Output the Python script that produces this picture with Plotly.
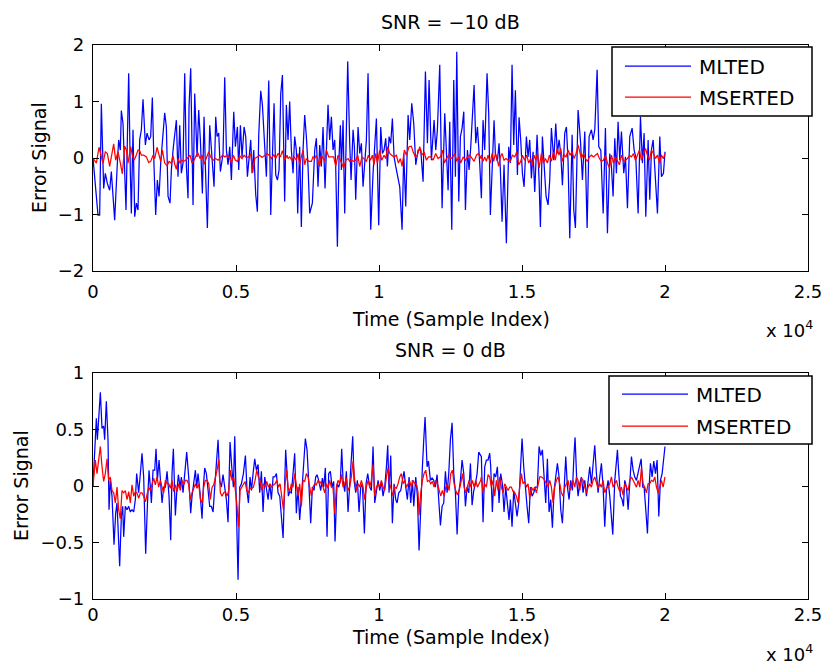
import plotly.graph_objects as go

# ---------------- data (time in samples, error value) ----------------
TOP_BLUE_T = [0,175,233,292,373,431,501,583,641,758,851,898,956,991,1049,1108,1154,1201,1248,1306,
1341,1399,1458,1516,1574,1632,1691,1749,1831,1889,1959,2017,2075,2134,2192,2250,2309,2367,2437,2507,
2565,2624,2693,2740,2810,2857,2915,2973,3032,3090,3148,3207,3265,3323,3358,3416,3498,3556,3638,3696,
3755,3824,3883,3929,3999,4081,4163,4233,4291,4338,4396,4454,4547,4606,4664,4722,4781,4839,4921,4979,
5049,5095,5154,5212,5282,5340,5399,5457,5515,5562,5620,5690,5748,5795,5865,5923,5981,6063,6145,6215,
6273,6331,6390,6448,6506,6565,6623,
6702,6761,6819,6877,6936,6994,7052,7110,7157,7227,7285,7344,7402,7460,7519,7577,7670,7752,7810,7868,
7927,7985,8043,8113,8160,8218,8276,8335,8393,8451,8486,8545,8603,8650,8685,8743,8801,8859,8906,8976,
9023,9093,9139,9186,9268,9326,9384,9442,9501,9559,9617,9676,9711,9792,9851,9909,9990,10060,10119,10177,
10235,10294,10352,10410,10468,10527,10585,10667,10725,10807,10865,10935,11017,11075,11145,11215,11285,11367,11460,11541,
11623,11693,11751,11833,11879,11926,11984,12042,12124,12206,12299,12357,12416,12474,12544,12614,12672,12719,12789,12847,
12905,12964,13022,13092,13150,13208,13267,13325,13383,13442,
13521,13580,13638,13696,13778,13836,13894,13953,14023,14069,14139,14198,14244,14303,14372,14454,14536,14594,14652,14711,
14769,14839,14897,14955,15014,15072,15154,15212,15270,15329,15387,15445,15527,15597,15643,15713,15772,15842,15912,15970,
16028,16110,16180,16238,16296,16355,16413,16495,16553,16611,16670,16752,16810,16868,16961,17043,17113,17195,17277,17346,
17428,17486,17545,17627,17685,17755,17838,17917,17987,18069,18127,18185,18244,18302,18360,18419,18477,18558,18617,18687,
18768,18850,18920,18978,19060,19142,19211,19270,19328,19410,19468,19526,19585,19643,19736,19818,19876,19946,20000]
TOP_BLUE_V = [0,-1.01,-1.01,0.96,-0.54,-0.27,-0.45,-0.57,-0.24,-1.10,-0.09,0.32,0.14,0.84,0.61,-0.27,-0.92,0.32,1.50,-0.27,
-0.98,0.50,-1.04,-0.80,-0.92,0.32,0.50,1.04,0.23,0.44,0.32,0.38,1.07,-0.15,-1.01,-0.39,-0.68,-0.09,0.32,0.80,
0.55,-0.68,-0.80,-0.21,0.20,0.38,0.67,-0.33,0.58,-0.27,-0.09,1.50,-0.15,-0.71,0.91,1.59,-0.83,1.14,0.02,0.85,
0.32,-0.63,0.73,-0.15,-1.24,0.58,0.02,-0.51,0.73,0.38,0.44,-0.24,0.08,1.43,0.14,-0.12,0.20,-0.39,0.82,0.20,
0.55,-0.21,0.58,0.02,0.55,0.38,-0.33,0.08,0.32,-0.27,0.14,-0.65,-0.95,0.41,1.19,0.94,0.35,-0.33,1.37,-1.01,
0.02,0.97,-0.30,-0.39,-0.21,1.14,1.47,
-0.77,0.94,0.32,1.00,0.14,-0.27,0.38,0.14,-0.98,0.20,-1.22,0.14,0.76,0.38,-0.15,-0.98,-0.80,0.14,0.35,-0.51,
0.23,-0.15,0.55,-0.54,0.20,0.94,0.32,0.73,0.14,0.32,-0.15,-1.57,0.02,0.58,-0.21,0.67,-0.98,0.91,1.71,0.26,
-0.39,0.50,0.20,-0.74,0.55,0.08,0.26,-0.51,-0.15,0.32,1.50,-0.04,-1.27,-0.27,0.26,0.70,-1.19,0.55,0.08,0.14,
0.35,-0.15,0.38,0.26,0.70,0.02,-0.15,-0.39,-0.51,-1.27,0.08,-0.86,0.76,0.32,0.97,0.61,-0.12,0.14,0.14,-0.42,
1.53,0.26,1.38,-0.04,0.44,0.67,0.14,0.50,1.65,-0.89,0.79,0.02,-0.57,0.64,-1.27,1.38,-0.33,1.88,-0.77,0.38,
0.53,0.82,-0.92,0.14,-0.21,0.20,0.67,1.29,0.26,0.55,
-0.09,-0.71,0.67,0.14,1.50,0.79,-1.01,-0.15,0.67,0.08,-0.06,0.26,-0.21,-1.13,-0.12,-1.51,0.20,-0.09,1.65,0.23,
1.20,-0.30,0.72,0.32,-0.27,-0.51,0.38,0.02,0.32,-0.36,0.11,-0.60,0.41,-0.39,-1.22,0.38,-0.21,-0.68,-0.83,-0.39,
0.53,-0.04,0.61,0.08,0.32,0.08,-0.48,0.44,0.55,-0.06,-1.42,0.41,-0.92,-1.24,0.85,0.32,-0.39,0.47,-1.24,0.38,
0.50,0.32,0.50,1.56,0.20,0.14,-0.98,0.53,-1.33,0.08,-0.15,-0.68,0.35,-0.27,0.64,-0.04,0.47,-0.27,0.02,-0.89,
0.38,0.53,0.14,0.02,-0.98,0.73,-0.09,0.44,-1.04,0.32,-0.74,0.14,0.32,-0.15,-0.98,0.38,-0.33,-0.27,0.11]

TOP_RED_T = [0,117,210,292,350,431,501,583,641,723,793,875,956,1026,1108,1166,1224,1318,1376,1434,
1492,1574,1632,1691,1772,1866,1947,2017,2099,2157,2239,2297,2367,2425,2507,2589,2658,2740,2798,2857,
2915,2973,3032,3090,3172,3241,3323,3393,3463,3533,3615,3673,3743,3813,3883,3964,4046,4116,4198,4279,
4373,4466,4536,4606,4699,4781,4839,4909,4979,5049,5130,5212,5282,5364,5445,5515,5585,5655,5748,5830,
5912,6005,6087,6156,6238,6320,6390,6471,6553,6623,6705,6786,
6819,6877,6959,7029,7110,7169,7227,7285,7344,7402,7460,7553,7635,7693,7752,7810,7880,7927,7985,8043,
8102,8160,8241,8335,8416,8486,8568,8626,8696,8766,8836,8918,8976,9034,9116,9186,9256,9326,9407,9477,
9559,9629,9699,9769,9827,9885,9944,10025,10095,10177,10235,10305,10375,10445,10527,10608,10678,10748,10807,10888,
10958,11051,11133,11191,11273,11343,11425,11495,11576,11658,11728,11809,11891,11984,12066,12148,12217,12287,12357,12439,
12509,12590,12649,12719,12789,12859,12940,13022,13092,13174,13255,13325,13407,13477,13558,
13580,13638,13696,13755,13813,13894,13953,14011,14069,14128,14186,14244,14303,14372,14442,14512,14594,14664,14746,14816,
14886,14955,15014,15095,15165,15235,15305,15363,15422,15480,15538,15597,15678,15748,15818,15888,15958,16028,16098,16168,
16226,16296,16355,16413,16483,16541,16611,16681,16751,16821,16891,16961,17019,17078,17148,17218,17287,17357,17427,17497,
17567,17637,17707,17777,17847,17917,17987,18057,18127,18197,18267,18337,18407,18477,18547,18617,18687,18757,18827,18897,
18967,19036,19106,19176,19246,19316,19386,19456,19526,19596,19666,19736,19806,19876,19946,20000]
TOP_RED_V = [0,-0.09,0.19,0.05,-0.09,0.11,0.08,-0.15,0.02,0.25,-0.04,0.11,-0.09,-0.28,0.21,0.14,-0.09,0.20,0.05,-0.04,
0.02,0.14,0.13,0.05,0.05,0.02,-0.08,-0.06,0.05,-0.01,0.19,0.05,-0.06,0.14,-0.09,-0.14,-0.06,-0.09,0.04,-0.11,
-0.20,-0.01,-0.09,-0.04,-0.06,-0.04,0.02,0.05,-0.09,-0.04,0.05,0.08,-0.01,0.05,-0.11,0.02,0.11,0.02,-0.04,-0.01,
-0.04,0.01,0.05,0.02,0.05,-0.01,-0.09,0.05,-0.04,-0.06,0.04,-0.01,0.05,0.01,0.02,0.08,-0.26,-0.01,0.02,0.05,
0.01,0.05,0.08,0.05,-0.01,0.06,-0.01,0.08,0.02,0.13,-0.04,0.05,
-0.01,0.02,-0.04,0.02,-0.04,0.08,-0.12,0.02,0.14,-0.12,-0.01,-0.06,-0.06,0.02,-0.01,0.05,-0.09,-0.15,0.05,-0.01,
-0.06,0.14,0.02,0.02,0.02,-0.15,0.05,-0.01,-0.09,-0.18,-0.04,-0.01,-0.06,-0.04,-0.06,-0.04,0.05,-0.15,0.02,-0.01,
-0.06,0.05,-0.04,0.05,-0.12,0.08,-0.09,0.14,-0.04,0.05,-0.01,0.20,0.08,0.05,0.02,0.05,-0.09,-0.01,-0.15,0.14,
0.05,0.20,0.21,0.11,0.02,0.05,0.20,0.05,0.11,-0.04,0.02,0.02,-0.04,0.08,-0.01,0.02,0.14,-0.09,-0.01,0.05,
-0.01,0.02,0.08,-0.06,0.02,-0.09,0.02,-0.04,0.02,0.05,-0.01,-0.06,0.05,0.08,-0.01,
0.05,-0.06,0.02,-0.06,0.05,-0.09,0.08,-0.06,0.08,-0.01,-0.15,0.02,0.08,-0.04,-0.01,-0.04,-0.06,0.05,0.02,0.11,
-0.12,-0.06,0.05,-0.04,0.05,-0.09,-0.01,-0.12,0.05,-0.04,0.08,-0.18,0.08,-0.09,-0.01,-0.09,0.05,-0.06,0.11,-0.04,
0.17,0.05,0.17,-0.06,0.05,0.02,0.14,0.05,0.11,-0.01,0.08,0.23,0.08,-0.01,0.08,-0.01,-0.06,0.02,0.05,0.02,
0.05,0.08,-0.01,-0.06,-0.04,0.05,-0.09,-0.18,0.05,-0.09,0.02,-0.06,-0.12,0.05,-0.04,-0.04,-0.01,0.05,0.02,0.08,
-0.04,0.05,0.14,-0.04,0.05,0.17,0.05,-0.04,0.14,0.08,-0.01,0.05,-0.09,0.05,-0.01,0.08]

BOT_BLUE_T = [0,82,117,152,198,257,315,373,408,466,525,560,606,665,735,793,840,875,933,991,
1038,1073,1131,1189,1248,1306,1364,1423,1481,1527,1597,1656,1714,1772,1842,1901,1959,2006,2041,2099,
2157,2204,2250,2309,2367,2414,2472,2530,2589,2658,2717,2763,2810,2880,2927,2985,3043,3090,3148,3207,
3276,3346,3416,3463,3533,3580,3626,3673,3743,3813,3859,3906,3964,4023,4081,4139,4198,4256,4314,4373,
4431,4489,4547,4606,4664,4722,4792,4851,4909,4956,5014,5072,5130,5189,5259,5329,5387,5434,5492,5539,
5597,5655,5713,5772,5830,5888,5947,6005,6063,6122,6180,6238,6297,6355,6413,6471,6530,6588,6646,
6737,6784,6831,6877,6936,6994,7052,7110,7169,7227,7285,7344,7425,7484,7553,7612,7670,7728,7787,7833,
7892,7962,8020,8067,8125,8183,8241,8300,8358,8416,8463,8533,8591,8650,8696,8743,8801,8859,8918,8976,
9034,9081,9128,9186,9244,9302,9361,9419,9489,9547,9606,9676,9734,9792,9851,9909,9967,10025,10084,10142,
10200,10259,10305,10352,10410,10468,10527,10585,10632,10690,10760,10818,10877,10935,10993,11051,11110,11168,11215,11285,
11343,11401,11460,11518,11565,11611,11681,11728,11798,11856,11914,11973,12031,12089,12148,12206,12264,12322,12381,12439,
12497,12556,12614,12672,12731,12789,12847,12905,12964,13022,13080,13139,13197,13255,13313,13372,13430,13488,13547,
13580,13638,13696,13755,13813,13871,13906,13964,14023,14081,14139,14198,14256,14314,14372,14431,14489,14547,14594,14652,
14711,14769,14827,14886,14944,15002,15060,15119,15177,15235,15294,15352,15410,15469,15538,15597,15655,15713,15772,15830,
15888,15947,16005,16063,16121,16180,16238,16296,16355,16413,16471,16530,16588,16646,16705,16763,16821,16856,16914,16961,
17019,17078,17136,17194,17253,17311,17369,17427,17486,17544,17602,17661,17719,17777,17836,17894,17952,18010,18069,18127,
18174,18244,18290,18337,18384,18442,18500,18547,18593,18652,18710,18768,18827,18885,18943,19002,19060,19106,19165,19223,
19270,19328,19386,19445,19491,19549,19608,19666,19724,19783,19841,19899,19958,20000]
BOT_BLUE_V = [0,0.41,0.60,0.41,0.64,0.83,0.51,0.53,0.41,0.75,0.41,-0.21,0.05,-0.09,-0.52,-0.24,-0.15,-0.36,-0.71,-0.27,
-0.18,-0.45,-0.18,-0.21,-0.18,-0.23,-0.21,-0.23,-0.12,0.11,-0.06,0.11,0.29,0.08,-0.60,-0.18,0.14,-0.01,-0.15,0.14,
0.14,0.33,0.05,0.23,0.05,-0.15,-0.01,-0.01,0.13,-0.09,-0.48,0.11,0.33,-0.26,-0.06,0.10,-0.01,0.08,-0.06,0.08,
0.30,0.08,-0.24,-0.09,0.08,0.14,-0.01,0.11,-0.06,-0.29,-0.01,0.16,0.11,-0.01,-0.18,-0.18,-0.23,-0.01,0.17,0.41,
0.05,-0.01,0.10,-0.01,-0.12,-0.32,0.39,0.17,-0.01,0.44,-0.24,-0.83,-0.01,0.02,0.11,0.27,-0.05,-0.15,0.08,-0.04,
0.11,0.24,0.14,0.19,-0.06,0.13,-0.23,0.08,-0.02,-0.12,0.02,-0.12,0.08,0.08,0.11,-0.06,-0.09,-0.27,-0.46,
0.32,0.11,-0.09,-0.05,-0.06,0.11,0.29,-0.24,-0.01,-0.30,-0.04,0.11,0.42,0.32,-0.01,-0.33,-0.01,-0.04,0.08,0.10,
0.05,-0.04,0.07,-0.01,0.16,-0.45,0.11,0.13,-0.01,0.04,-0.49,0.02,-0.01,0.05,0.33,0.05,-0.05,0.13,-0.23,-0.01,
0.29,0.44,0.05,-0.06,0.05,-0.23,-0.01,0.02,-0.42,0.02,0.11,-0.01,-0.04,0.35,-0.15,-0.04,0.05,-0.04,0.04,-0.09,
-0.01,0.17,0.36,-0.06,0.27,-0.33,0.02,-0.12,-0.15,-0.06,-0.04,0.05,0.13,-0.01,-0.12,0.08,-0.15,0.05,-0.18,0.08,
-0.09,-0.57,-0.09,0.17,0.41,0.61,0.17,0.22,0.05,0.07,0.05,-0.01,0.10,-0.12,-0.35,-0.18,-0.15,0.13,-0.06,0.11,
0.41,0.56,0.11,-0.06,-0.43,-0.06,0.05,0.23,0.11,-0.18,-0.01,-0.06,0.20,-0.17,-0.04,0.02,0.11,0.30,0.27,
0.26,-0.32,0.17,0.23,0.23,0.29,0.17,-0.23,0.11,0.08,0.17,-0.15,0.11,0.02,-0.23,-0.01,-0.18,-0.30,-0.12,-0.36,
-0.04,-0.18,-0.27,-0.15,0.17,0.42,0.17,-0.04,-0.18,-0.33,-0.01,-0.09,-0.06,-0.01,-0.01,0.35,0.27,0.32,0.05,-0.15,
0.24,-0.23,-0.12,-0.37,-0.04,0.11,0.20,0.08,-0.21,-0.33,-0.06,0.26,-0.01,-0.12,0.05,-0.04,0.29,0.43,0.05,-0.09,
0.02,0.08,-0.06,0.05,-0.09,0.02,0.17,0.02,0.23,0.36,0.11,-0.06,0.08,0.20,-0.01,-0.36,-0.04,0.05,-0.09,-0.27,
-0.43,0.05,0.17,0.32,0.11,-0.09,-0.12,-0.18,0.05,-0.01,-0.21,0.08,0.26,0.14,0.08,0.05,0.11,0.17,0.24,-0.01,
-0.01,-0.21,-0.42,-0.01,0.20,0.08,0.22,0.11,0.23,-0.27,0.05,0.11,0.23,0.35]

BOT_RED_T = [0,82,140,198,257,315,373,431,490,548,606,665,723,781,840,898,956,1014,1073,1131,
1189,1248,1306,1364,1423,1481,1539,1597,1656,1714,1772,1831,1889,1947,2006,2064,2122,2180,2239,2297,
2355,2414,2472,2530,2589,2647,2705,2763,2822,2880,2938,2997,3055,3113,3172,3230,3288,3346,3405,3463,
3521,3580,3638,3696,3755,3813,3871,3929,3988,4046,4104,4163,4221,4279,4338,4396,4454,4512,4571,4629,
4687,4746,4804,4862,4921,4979,5037,5084,5142,5200,5259,5317,5375,5434,5492,5550,5608,5667,5725,5783,
5841,5900,5958,6017,6075,6133,6191,6250,6308,6366,6425,6483,6541,6600,6658,6716,6775,
6819,6877,6936,6994,7052,7110,7169,7227,7285,7344,7402,7460,7519,7577,7635,7693,7752,7810,7868,7927,
7985,8043,8102,8160,8218,8276,8335,8393,8451,8510,8568,8626,8685,8743,8801,8859,8918,8976,9034,9093,
9151,9209,9268,9326,9384,9442,9501,9559,9617,9676,9734,9792,9851,9909,9967,10025,10084,10142,10200,10259,
10317,10375,10434,10492,10550,10608,10667,10725,10783,10842,10900,10958,11017,11075,11133,11191,11250,11308,11366,11401,
11460,11518,11576,11634,11693,11751,11809,11868,11926,11984,12043,12101,12159,12217,12276,12334,12392,12450,12509,12567,
12625,12684,12742,12800,12858,12917,12975,13033,13092,13150,13208,13266,13324,13383,13441,13499,13557,
13580,13638,13696,13755,13813,13871,13929,13988,14046,14104,14163,14221,14279,14338,14396,14454,14512,14571,14629,14687,
14746,14804,14862,14921,14979,15037,15095,15154,15212,15270,15329,15387,15445,15504,15562,15620,15678,15737,15795,15853,
15912,15970,16028,16087,16145,16203,16261,16320,16378,16436,16495,16553,16611,16670,16728,16786,16844,16903,16961,17019,
17078,17136,17194,17253,17311,17369,17427,17486,17544,17602,17661,17719,17777,17836,17894,17952,18010,18069,18127,18185,
18244,18302,18360,18419,18477,18535,18593,18652,18710,18768,18827,18885,18943,19002,19060,19118,19176,19235,19293,19351,
19410,19468,19526,19585,19643,19701,19760,19818,19876,19934,20000]
BOT_RED_V = [0,0.23,0.11,0.26,0.35,0.17,0.04,0.11,0.24,0.05,0.08,-0.04,-0.06,-0.15,-0.01,-0.21,-0.29,-0.04,-0.06,-0.04,
-0.12,-0.05,-0.15,0.01,-0.09,-0.05,-0.06,-0.11,-0.06,-0.06,-0.09,-0.14,-0.08,-0.01,-0.04,0.02,0.07,0.01,0.08,-0.01,
0.05,-0.01,-0.06,0.05,0.02,0.02,-0.02,0.05,-0.05,0.01,-0.05,0.02,-0.04,0.05,0.01,0.05,0.05,0.01,-0.12,-0.06,
-0.01,0.02,-0.02,0.02,-0.12,-0.15,-0.01,0.05,0.05,0.02,-0.12,-0.01,0.01,0.07,0.14,0.23,-0.06,-0.09,-0.06,-0.05,
-0.09,-0.04,0.14,0.05,0.08,-0.04,-0.18,-0.36,-0.04,-0.01,0.02,0.04,-0.04,-0.06,-0.02,-0.02,-0.01,0.05,0.14,0.08,
0.05,-0.04,0.02,-0.01,0.04,-0.01,0.02,-0.01,0.01,0.02,0.05,-0.01,0.02,-0.09,-0.21,0.02,0.14,
-0.01,-0.05,0.02,-0.01,0.11,-0.01,-0.09,0.02,-0.18,0.05,0.04,0.11,0.08,-0.01,-0.09,-0.01,0.02,0.01,0.05,0.02,
0.04,-0.01,-0.06,0.02,-0.02,0.05,-0.01,-0.02,-0.24,-0.01,0.05,0.02,0.10,-0.01,0.02,0.07,-0.04,-0.01,0.08,0.22,
0.05,-0.04,0.02,-0.01,0.05,-0.01,-0.12,-0.01,0.05,-0.01,0.05,0.19,-0.09,-0.01,0.02,-0.01,0.05,-0.01,-0.04,0.08,
0.16,0.02,-0.05,-0.09,-0.01,-0.02,0.02,0.08,0.11,0.02,0.05,-0.01,0.02,0.04,-0.01,0.05,0.02,0.02,-0.06,-0.26,
-0.06,0.05,0.11,0.14,0.04,0.05,0.02,0.04,-0.01,0.05,0.02,-0.04,-0.09,-0.04,-0.09,-0.01,0.02,-0.04,0.11,0.14,
0.02,-0.04,-0.08,-0.04,0.02,0.11,-0.01,-0.06,-0.01,0.05,-0.01,0.05,-0.01,0.05,-0.01,0.02,0.05,
0.08,-0.06,0.02,-0.01,0.10,0.08,-0.01,0.05,-0.09,0.05,-0.04,0.08,-0.01,-0.06,0.02,-0.01,-0.04,-0.01,-0.01,-0.05,
-0.06,-0.09,-0.15,-0.01,0.11,0.02,0.04,-0.01,0.02,-0.11,-0.01,-0.04,-0.01,-0.06,0.02,0.08,0.08,0.07,0.05,0.02,
-0.01,0.05,-0.01,-0.15,-0.01,0.05,0.08,0.02,-0.06,-0.09,-0.01,0.02,0.05,-0.04,-0.01,0.05,-0.01,0.08,0.05,-0.04,
0.07,0.05,-0.01,-0.06,-0.01,0.02,-0.01,0.05,0.08,0.02,-0.02,0.02,-0.01,0.05,-0.06,-0.02,-0.01,0.02,0.08,-0.01,
0.02,0.05,-0.01,-0.05,-0.01,-0.08,0.02,-0.01,-0.04,0.05,0.08,0.05,0.02,-0.01,0.05,-0.01,0.16,0.02,-0.01,-0.06,
0.02,0.02,0.05,0.04,0.08,-0.01,-0.06,-0.01,0.05,-0.01,0.08]

SERIES_NAMES = ["MLTED", "MSERTED"]
TITLES = ["SNR = \u221210 dB", "SNR = 0 dB"]
X_TICKVALS = [0, 5000, 10000, 15000, 20000, 25000]
X_TICKTEXT = ["0", "0.5", "1", "1.5", "2", "2.5"]
Y1_TICKVALS = [-2, -1, 0, 1, 2]
Y1_TICKTEXT = ["\u22122", "\u22121", "0", "1", "2"]
Y2_TICKVALS = [-1, -0.5, 0, 0.5, 1]
Y2_TICKTEXT = ["\u22121", "\u22120.5", "0", "0.5", "1"]

for a, b in [(TOP_BLUE_T, TOP_BLUE_V), (TOP_RED_T, TOP_RED_V), (BOT_BLUE_T, BOT_BLUE_V), (BOT_RED_T, BOT_RED_V)]:
    assert len(a) == len(b), (len(a), len(b))

# ---------------- layout helpers ----------------
W, H = 829, 670
FONT = "DejaVu Sans"
BLUE = "#0000ff"
RED = "#ff0000"
LW = 1.25

def fx(p):
    return p / W

def fy(p):
    return 1 - p / H

fig = go.Figure()
fig.add_trace(go.Scatter(x=TOP_BLUE_T, y=TOP_BLUE_V, mode="lines", name=SERIES_NAMES[0],
                         line=dict(color=BLUE, width=LW), xaxis="x", yaxis="y"))
fig.add_trace(go.Scatter(x=TOP_RED_T, y=TOP_RED_V, mode="lines", name=SERIES_NAMES[1],
                         line=dict(color=RED, width=LW), xaxis="x", yaxis="y"))
fig.add_trace(go.Scatter(x=BOT_BLUE_T, y=BOT_BLUE_V, mode="lines", name=SERIES_NAMES[0],
                         line=dict(color=BLUE, width=LW), xaxis="x2", yaxis="y2"))
fig.add_trace(go.Scatter(x=BOT_RED_T, y=BOT_RED_V, mode="lines", name=SERIES_NAMES[1],
                         line=dict(color=RED, width=LW), xaxis="x2", yaxis="y2"))

axis_common = dict(showline=True, linecolor="black", linewidth=1.3, mirror="ticks",
                   ticks="inside", ticklen=6, tickcolor="black", tickwidth=1,
                   showgrid=False, zeroline=False, automargin=False,
                   tickfont=dict(family=FONT, size=18, color="black"))

xdom = [fx(93), fx(808)]
fig.update_layout(
    width=W, height=H,
    margin=dict(l=0, r=0, t=0, b=0, pad=0, autoexpand=False),
    paper_bgcolor="white", plot_bgcolor="white",
    showlegend=False,
    xaxis=dict(domain=xdom, range=[0, 25000], tickvals=X_TICKVALS, ticktext=X_TICKTEXT,
               anchor="y", ticklabelstandoff=4, **axis_common),
    yaxis=dict(domain=[fy(271), fy(45)], range=[-2, 2], tickvals=Y1_TICKVALS, ticktext=Y1_TICKTEXT,
               anchor="x", ticklabelstandoff=4, **axis_common),
    xaxis2=dict(domain=xdom, range=[0, 25000], tickvals=X_TICKVALS, ticktext=X_TICKTEXT,
                anchor="y2", ticklabelstandoff=-1, **axis_common),
    yaxis2=dict(domain=[fy(599), fy(373)], range=[-1, 1], tickvals=Y2_TICKVALS, ticktext=Y2_TICKTEXT,
                anchor="x2", ticklabelstandoff=4, **axis_common),
)

ann = []
def text(s, x, y, size, angle=0, xanchor="center"):
    ann.append(dict(text=s, x=fx(x), y=fy(y), xref="paper", yref="paper", showarrow=False,
                    xanchor=xanchor, yanchor="middle", textangle=angle,
                    font=dict(family=FONT, size=size, color="black")))

# titles
text(TITLES[0], 450.5, 22, 19)
text(TITLES[1], 450.5, 350, 19)
# x labels
text("Time (Sample Index)", 450.5, 319, 19)
text("Time (Sample Index)", 450.5, 637, 19)
# exponent labels
text("x 10<sup>4</sup>", 764, 329, 18, xanchor="left")
text("x 10<sup>4</sup>", 764, 653, 18, xanchor="left")
# y labels
text("Error Signal", 39, 158, 19, angle=-90)
text("Error Signal", 21, 486, 19, angle=-90)

# manual legends (box, line samples, labels)
shapes = []
def legend(x0, y0, x1, y1, ly_blue, ly_red, lx0, lx1, tx):
    shapes.append(dict(type="rect", xref="paper", yref="paper", x0=fx(x0), x1=fx(x1), y0=fy(y1), y1=fy(y0),
                       line=dict(color="black", width=1.5), fillcolor="white", layer="above"))
    shapes.append(dict(type="line", xref="paper", yref="paper", x0=fx(lx0), x1=fx(lx1), y0=fy(ly_blue), y1=fy(ly_blue),
                       line=dict(color=BLUE, width=LW), layer="above"))
    shapes.append(dict(type="line", xref="paper", yref="paper", x0=fx(lx0), x1=fx(lx1), y0=fy(ly_red), y1=fy(ly_red),
                       line=dict(color=RED, width=LW), layer="above"))
    text(SERIES_NAMES[0], tx, ly_blue + 1, 20, xanchor="left")
    text(SERIES_NAMES[1], tx, ly_red + 1, 20, xanchor="left")

legend(612, 47, 812, 116, 66, 97, 625, 691, 697)
legend(609, 376, 812, 444, 394, 426, 622, 688, 694)

fig.update_layout(annotations=ann, shapes=shapes)
fig.write_html("out.html")
